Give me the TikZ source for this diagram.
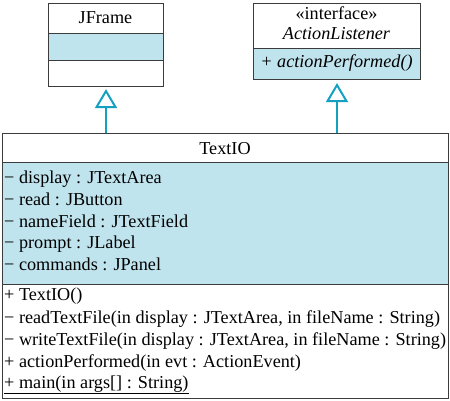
\documentclass[tikz,border=0pt]{standalone}
\usepackage{fontspec}
\setmainfont{Liberation Serif}
\usetikzlibrary{arrows.meta,calc}
\definecolor{fillblue}{RGB}{192,228,238}
\definecolor{arrowteal}{RGB}{20,160,192}
\definecolor{edge}{RGB}{60,60,60}
\begin{document}
\begin{tikzpicture}[x=1pt,y=-1pt,
  comp/.style={draw=edge,line width=1.1pt,rectangle,inner sep=0pt,anchor=north west},
  blue/.style={comp,fill=fillblue},
  white/.style={comp,fill=white},
  txt/.style={inner sep=0pt,anchor=base west,font=\fontsize{18.2}{20}\selectfont},
  ctxt/.style={inner sep=0pt,anchor=base,font=\fontsize{18.2}{20}\selectfont},
  gen/.style={draw=arrowteal,line width=2pt,-{Triangle[open,length=19pt,width=22pt,line width=2pt]}}]
\useasboundingbox (0,0) rectangle (450,401);
% JFrame
\node[white,minimum width=115pt,minimum height=30pt] (jfn) at (48,3) {};
\node[blue,minimum width=115pt,minimum height=27pt] (jfa) at (48,33) {};
\node[white,minimum width=115pt,minimum height=26pt] (jfo) at (48,60) {};
\node[ctxt] (jft) at (105.5,23.5) {JFrame};
% ActionListener
\node[white,minimum width=167pt,minimum height=45pt] (aln) at (253,3) {};
\node[blue,minimum width=167pt,minimum height=31pt] (alo) at (253,48) {};
\node[ctxt] (alt1) at (336.5,20) {«interface»};
\node[ctxt] (alt2) at (336.5,40) {\textit{ActionListener}};
\node[ctxt] (alm) at (336.5,68) {\textit{+ actionPerformed()}};
% TextIO
\node[white,minimum width=446pt,minimum height=29pt] (tn) at (2,133) {};
\node[blue,minimum width=446pt,minimum height=122pt] (ta) at (2,162) {};
\node[white,minimum width=446pt,minimum height=114pt] (to) at (2,284) {};
\node[ctxt] (tt) at (225,155) {TextIO};
\node[txt] (a1) at (4,183) {− display : JTextArea};
\node[txt] (a2) at (4,205) {− read : JButton};
\node[txt] (a3) at (4,227) {− nameField : JTextField};
\node[txt] (a4) at (4,248) {− prompt : JLabel};
\node[txt] (a5) at (4,270) {− commands : JPanel};
\node[txt] (o1) at (4,300.5) {+ TextIO()};
\node[txt] (o2) at (4,323) {− readTextFile(in display : JTextArea, in fileName : String)};
\node[txt] (o3) at (4,345) {− writeTextFile(in display : JTextArea, in fileName : String)};
\node[txt] (o4) at (4,367) {+ actionPerformed(in evt : ActionEvent)};
\node[txt] (o5) at (4,388) {\underline{+ main(in args[] : String)}};
% generalizations
\coordinate (g1) at (106,133);
\coordinate (g2) at (337,133);
\draw[gen,shorten >=2pt] (g1) -- (g1 |- jfo.south);
\draw[gen,shorten >=3pt] (g2) -- (g2 |- alo.south);
\end{tikzpicture}
\end{document}
